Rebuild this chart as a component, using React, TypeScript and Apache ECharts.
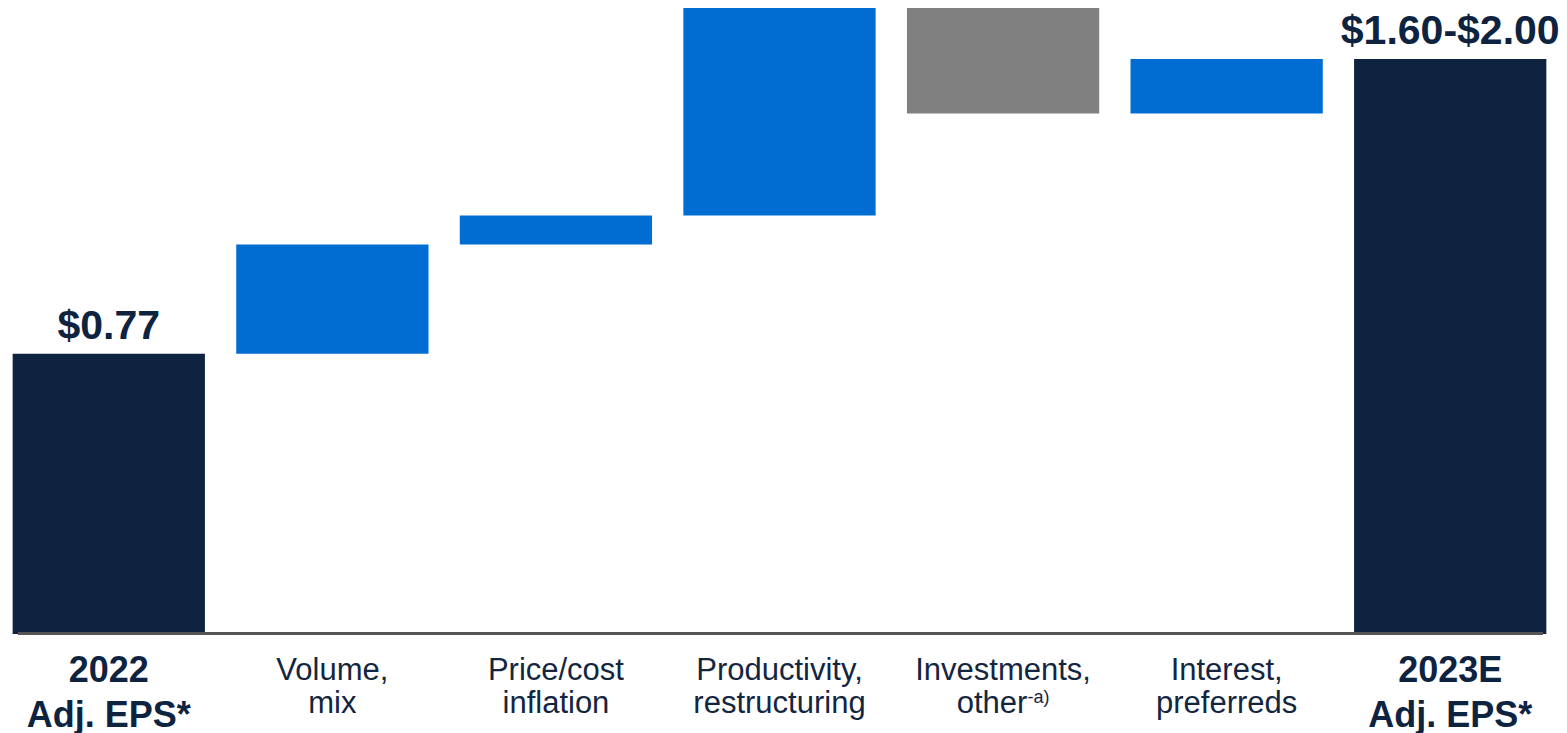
import React, { useEffect, useRef } from "react";
import * as echarts from "echarts";

const categories = [
  "2022\nAdj. EPS*",
  "Volume,\nmix",
  "Price/cost\ninflation",
  "Productivity,\nrestructuring",
  "Investments,\nother-a)",
  "Interest,\npreferreds",
  "2023E\nAdj. EPS*",
];
// Change of each step (first and last are totals)
const deltas = [0.77, 0.3, 0.08, 0.57, -0.29, 0.15, 1.58];
const isTotal = [true, false, false, false, false, false, true];
const valueLabels = ["$0.77", "", "", "", "", "", "$1.60-$2.00"];

const NAVY = "#0e233f";
const BLUE = "#016cd1";
const GRAY = "#808080";
const TEXT = "#14263f";
const FONT = "Liberation Sans, Arial, sans-serif";

export default function App() {
  const ref = useRef<HTMLDivElement>(null);

  useEffect(() => {
    if (!ref.current) return;
    const chart = echarts.init(ref.current, undefined, { renderer: "svg" });

    const bases: number[] = [];
    const heights: any[] = [];
    let level = 0;
    deltas.forEach((d, i) => {
      if (isTotal[i]) {
        bases.push(0);
        heights.push({ value: d, itemStyle: { color: NAVY } });
        level = d;
      } else if (d >= 0) {
        bases.push(level);
        heights.push({ value: d, itemStyle: { color: BLUE } });
        level += d;
      } else {
        bases.push(level + d);
        heights.push({ value: -d, itemStyle: { color: GRAY } });
        level += d;
      }
    });

    const fmtCat = (v: string, idx: number) => {
      const lines = v.split("\n");
      if (isTotal[idx]) {
        return `{b|${lines[0]}}\n{b|${lines[1]}}`;
      }
      const second = lines[1].endsWith("-a)")
        ? `{r2|${lines[1].slice(0, -3)}}{sup|-a)}`
        : `{r2|${lines[1]}}`;
      return `{r1|${lines[0]}}\n${second}`;
    };

    chart.setOption({
      animation: false,
      grid: { left: 0, right: 5, top: 8, bottom: 99, containLabel: false },
      xAxis: {
        type: "category",
        data: categories,
        axisLine: { show: false },
        axisTick: { show: false },
        axisLabel: {
          interval: 0,
          margin: 13,
          formatter: fmtCat,
          rich: {
            b: {
              fontFamily: FONT,
              fontWeight: "bold",
              fontSize: 36,
              lineHeight: 45,
              color: NAVY,
            },
            r1: {
              fontFamily: FONT,
              fontSize: 31,
              lineHeight: 45,
              color: TEXT,
            },
            r2: {
              fontFamily: FONT,
              fontSize: 31,
              lineHeight: 21,
              color: TEXT,
            },
            sup: {
              fontFamily: FONT,
              fontSize: 18,
              lineHeight: 10,
              padding: [0, 0, 11, 0],
              color: TEXT,
            },
          },
        },
      },
      yAxis: {
        type: "value",
        min: 0,
        max: 1.72,
        show: false,
        splitLine: { show: false },
      },
      series: [
        {
          type: "bar",
          stack: "wf",
          data: bases,
          itemStyle: { color: "transparent" },
          barWidth: "86%",
          silent: true,
        },
        {
          type: "bar",
          stack: "wf",
          data: heights,
          barWidth: "86%",
          label: {
            show: true,
            position: "top",
            distance: 8,
            formatter: (p: any) => valueLabels[p.dataIndex],
            fontFamily: FONT,
            fontWeight: "bold",
            fontSize: 41,
            color: NAVY,
          },
        },
      ],
      graphic: [
        {
          type: "line",
          shape: { x1: 21, y1: 633.5, x2: 1546, y2: 633.5 },
          style: { stroke: "#555555", lineWidth: 3 },
          z: 100,
        },
      ],
    });

    return () => chart.dispose();
  }, []);

  return (
    <div
      style={{
        position: "fixed",
        left: 0,
        top: 0,
        width: 1567,
        height: 733,
        overflow: "hidden",
        background: "#ffffff",
      }}
    >
      <div
        ref={ref}
        style={{
          position: "absolute",
          left: -3,
          top: 0,
          width: 1570,
          height: 733,
        }}
      />
    </div>
  );
}
